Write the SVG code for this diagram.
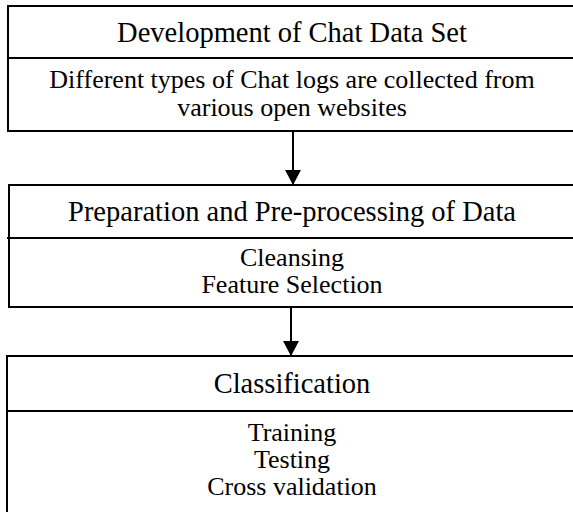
<svg xmlns="http://www.w3.org/2000/svg" width="573" height="512" viewBox="0 0 573 512">
<style>
.box{fill:#fff;stroke:#000;stroke-width:2}
.div{stroke:#000;stroke-width:2}
.t{font-family:"Liberation Serif","Times New Roman",serif;font-size:28.5px;text-anchor:middle;fill:#000}
.b{font-family:"Liberation Serif","Times New Roman",serif;font-size:26px;text-anchor:middle;fill:#000}
.conn{stroke:#000;stroke-width:2;fill:none}
</style>
<defs>
<marker id="ah" markerWidth="16" markerHeight="16" refX="14" refY="8" orient="auto" markerUnits="userSpaceOnUse">
<path d="M0,0 L15,8 L0,16 Z" fill="#000"/>
</marker>
</defs>
<rect width="573" height="512" fill="#fff"/>
<g id="connectors">
<line class="conn" x1="293" y1="131" x2="293" y2="184" marker-end="url(#ah)"/>
<line class="conn" x1="291" y1="307" x2="291" y2="355" marker-end="url(#ah)"/>
</g>
<g id="node1">
<rect class="box" x="8" y="6" width="580" height="125"/>
<line class="div" x1="8" y1="58" x2="588" y2="58"/>
<text class="t" x="292" y="42">Development of Chat Data Set</text>
<text class="b" x="292" y="88">Different types of Chat logs are collected from</text>
<text class="b" x="292" y="116">various open websites</text>
</g>
<g id="node2">
<rect class="box" x="9" y="185" width="580" height="122"/>
<line class="div" x1="7" y1="238" x2="589" y2="238"/>
<text class="t" x="292" y="221">Preparation and Pre-processing of Data</text>
<text class="b" x="292" y="266">Cleansing</text>
<text class="b" x="292" y="293">Feature Selection</text>
</g>
<g id="node3">
<rect class="box" x="7" y="356" width="580" height="170"/>
<line class="div" x1="7" y1="411" x2="587" y2="411"/>
<text class="t" x="292" y="393">Classification</text>
<text class="b" x="292" y="441">Training</text>
<text class="b" x="292" y="468">Testing</text>
<text class="b" x="292" y="495">Cross validation</text>
</g>
</svg>
